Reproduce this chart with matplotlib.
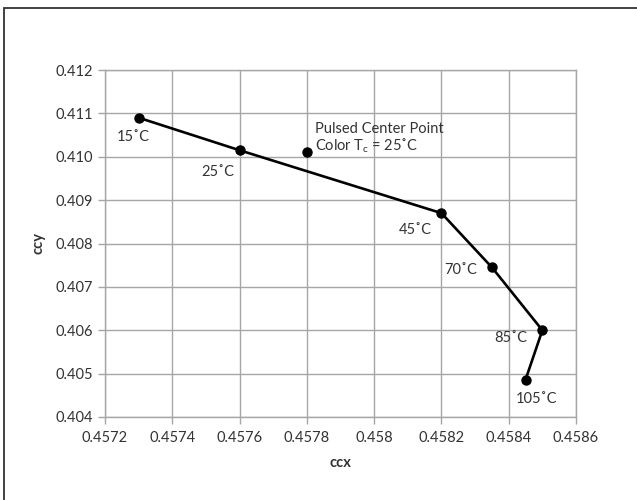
import matplotlib
matplotlib.use("Agg")
import matplotlib.pyplot as plt
from matplotlib.patches import Rectangle

# datos de la curva (temperatura -> coordenadas de color)
temps = ["15˚C", "25˚C", "45˚C", "70˚C", "85˚C", "105˚C"]
ccx = [0.45730, 0.45760, 0.45820, 0.45835, 0.45850, 0.45845]
ccy = [0.41090, 0.41015, 0.40870, 0.40745, 0.40600, 0.40486]

# punto central pulsado
pulsed_x = [0.45780]
pulsed_y = [0.41010]

x_ticks = [0.4572, 0.4574, 0.4576, 0.4578, 0.4580, 0.4582, 0.4584, 0.4586]
x_tick_labels = ["0.4572", "0.4574", "0.4576", "0.4578", "0.458", "0.4582", "0.4584", "0.4586"]
y_ticks = [0.404, 0.405, 0.406, 0.407, 0.408, 0.409, 0.410, 0.411, 0.412]
y_tick_labels = ["0.404", "0.405", "0.406", "0.407", "0.408", "0.409", "0.410", "0.411", "0.412"]

# desplazamiento de cada etiqueta (pixeles)
label_offsets = [(-5, -19), (-22, -22), (-26, -17), (-31, -3), (-32, -8), (11, -19)]

plt.rcParams['font.family'] = ['Lato', 'DejaVu Sans']
txt_color = "#333333"
grid_color = "#a6a6a6"
fs = 10.5

fig = plt.figure(figsize=(6.37, 5.0), dpi=100)
ax = fig.add_axes([105 / 637, 1 - 417 / 500, (576 - 105) / 637, (417 - 70) / 500])

ax.plot(ccx, ccy, color="black", lw=1.9, marker="o", ms=6.5, zorder=3)
ax.plot(pulsed_x, pulsed_y, color="black", lw=0, marker="o", ms=6.5, zorder=3)

for t, x, y, off in zip(temps, ccx, ccy, label_offsets):
    ax.annotate(t, (x, y), xytext=off, textcoords="offset pixels",
                ha="center", va="center", fontsize=fs, color=txt_color)

ax.annotate("Pulsed Center Point\nColor T$_\\mathregular{c}$ = 25˚C", (pulsed_x[0], pulsed_y[0]),
            xytext=(8, 14), textcoords="offset pixels", ha="left", va="center",
            fontsize=fs, color=txt_color, linespacing=1.05)

ax.set_xlim(0.4572, 0.4586)
ax.set_ylim(0.404, 0.412)
ax.set_xticks(x_ticks)
ax.set_xticklabels(x_tick_labels)
ax.set_yticks(y_ticks)
ax.set_yticklabels(y_tick_labels)
ax.grid(True, color=grid_color, lw=1)
ax.set_axisbelow(True)
for s in ax.spines.values():
    s.set_color(grid_color)
    s.set_linewidth(1)
ax.tick_params(colors=grid_color, labelcolor=txt_color, labelsize=fs, length=5, width=1)
ax.tick_params(axis="x", pad=5)

ax.set_xlabel("ccx", fontsize=fs, fontweight="bold", color=txt_color, labelpad=8)
ax.set_ylabel("ccy", fontsize=fs, fontweight="bold", color=txt_color, labelpad=7)

# borde exterior (solo arriba e izquierda visibles)
fig.patches.append(Rectangle((3.5 / 637, -0.1), 1.2, 1 - 8 / 500 + 0.1,
                             transform=fig.transFigure, fill=False,
                             edgecolor="#333333", lw=1.3, clip_on=False))

plt.savefig("out.png", dpi=100)
